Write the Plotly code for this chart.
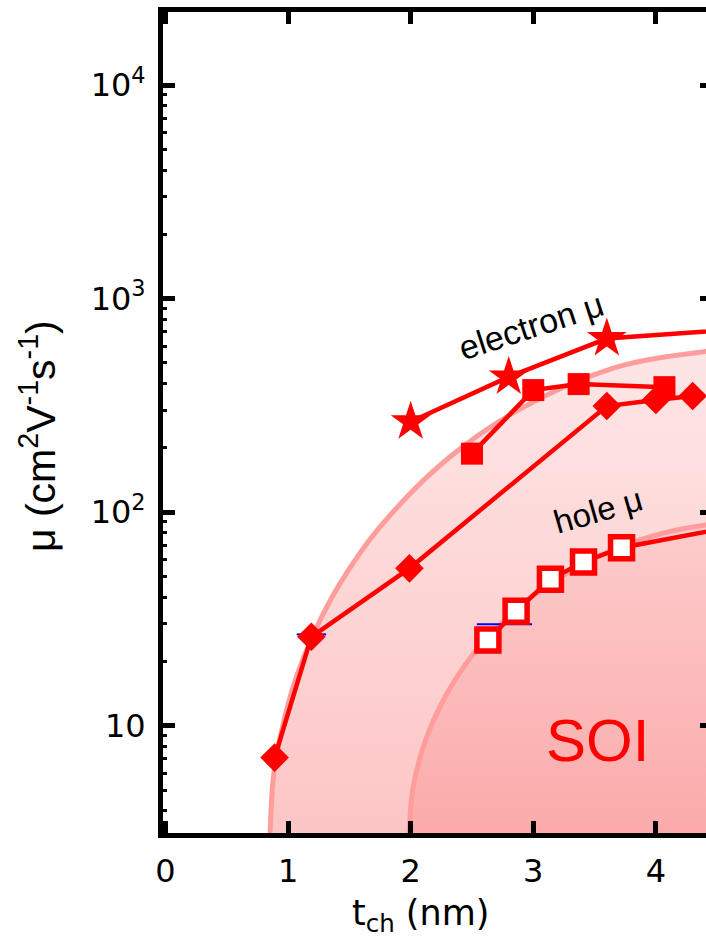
import plotly.graph_objects as go

# ---------------- data ----------------
star_x = [2.0, 2.8, 3.6, 5.0]
star_y = [265, 430, 650, 740]

sq_x = [2.5, 3.0, 3.37, 4.07]
sq_y = [188, 373, 398, 385]

dia_x = [0.89, 1.19, 1.99, 3.6, 4.0, 4.3]
dia_y = [7.1, 26.1, 54.6, 314, 335, 350]

hole_x = [2.63, 2.86, 3.14, 3.41, 3.72, 5.0]
hole_y = [25.2, 34.4, 48.5, 58.5, 68.2, 94]

blue_x = [1.07, 1.31, None, 2.54, 2.99]
blue_y = [26.8, 26.8, None, 29.9, 29.9]

# shaded region boundaries
outer_x = [0.852, 0.874, 0.901, 0.975, 1.07, 1.219, 1.423, 1.75, 2.296,
           2.892, 3.707, 4.409, 4.6]
outer_y = [3.0, 5.31, 6.95, 11.1, 17.1, 27.8, 46.3, 85.3, 177,
           304, 483, 565, 575]
inner_x = [1.986, 2.021, 2.131, 2.294, 2.467, 2.647, 2.892, 3.095, 3.381,
           3.707, 4.033, 4.409, 4.6]
inner_y = [3.0, 5.19, 8.87, 14.1, 20.1, 26.6, 36.4, 44.7, 56.2,
           68.7, 79.1, 87.1, 89]
region_floor = 3.0

# ticks
x_ticks = [0, 1, 2, 3, 4]
y_ticks = [10, 100, 1000, 10000]
y_ticktext = ['10', '10<sup>2</sup>', '10<sup>3</sup>', '10<sup>4</sup>']
y_minor = [m * 10 ** d for d in range(0, 5) for m in range(2, 10)]

RED = '#ff0000'
EDGE = '#ff9c9c'
TICKFONT = dict(family='DejaVu Sans', size=32, color='black')

fig = go.Figure()

# outer region
fig.add_trace(go.Scatter(
    x=outer_x + [outer_x[-1], outer_x[0]],
    y=outer_y + [region_floor, region_floor],
    fill='toself', mode='lines', line=dict(width=0),
    fillgradient=dict(type='vertical',
                      colorscale=[[0, '#fdc5c5'], [1, '#fee6e6']]),
    hoverinfo='skip', showlegend=False))
fig.add_trace(go.Scatter(x=outer_x, y=outer_y, mode='lines',
                         line=dict(color=EDGE, width=5, shape='spline'),
                         hoverinfo='skip', showlegend=False))
# inner region
fig.add_trace(go.Scatter(
    x=inner_x + [inner_x[-1], inner_x[0]],
    y=inner_y + [region_floor, region_floor],
    fill='toself', mode='lines', line=dict(width=0),
    fillgradient=dict(type='vertical',
                      colorscale=[[0, '#fbaaaa'], [1, '#fdcccc']]),
    hoverinfo='skip', showlegend=False))
fig.add_trace(go.Scatter(x=inner_x, y=inner_y, mode='lines',
                         line=dict(color=EDGE, width=5, shape='spline'),
                         hoverinfo='skip', showlegend=False))

# blue remnants
fig.add_trace(go.Scatter(x=blue_x, y=blue_y, mode='lines',
                         line=dict(color='#0000ff', width=2),
                         hoverinfo='skip', showlegend=False))

# data series
fig.add_trace(go.Scatter(x=dia_x, y=dia_y, mode='lines+markers',
                         line=dict(color=RED, width=4.5),
                         marker=dict(symbol='diamond', size=22, color=RED),
                         showlegend=False))
fig.add_trace(go.Scatter(x=sq_x, y=sq_y, mode='lines+markers',
                         line=dict(color=RED, width=4.5),
                         marker=dict(symbol='square', size=22, color=RED),
                         showlegend=False))
fig.add_trace(go.Scatter(x=star_x, y=star_y, mode='lines+markers',
                         line=dict(color=RED, width=4.5),
                         marker=dict(symbol='star', size=30, color=RED),
                         showlegend=False))
fig.add_trace(go.Scatter(x=hole_x, y=hole_y, mode='lines+markers',
                         line=dict(color=RED, width=4.5),
                         marker=dict(symbol='square', size=22, color='white',
                                     line=dict(color=RED, width=5.5)),
                         showlegend=False))
# right-hand axis stub carrier
fig.add_trace(go.Scatter(x=[], y=[], yaxis='y2', showlegend=False))

fig.update_layout(
    width=706, height=939, autosize=False,
    margin=dict(l=163, r=0, t=12, b=106, pad=0),
    paper_bgcolor='white', plot_bgcolor='white',
    xaxis=dict(range=[-0.0204, 4.409], tickmode='array', tickvals=x_ticks,
               ticks='inside', ticklen=12, tickwidth=4.5, tickcolor='black',
               showline=True, linewidth=5, linecolor='black', mirror='ticks',
               showgrid=False, zeroline=False, tickfont=TICKFONT,
               ticklabelstandoff=6),
    yaxis=dict(type='log', range=[0.4982, 4.3418], tickmode='array',
               tickvals=y_ticks, ticktext=y_ticktext,
               ticks='inside', ticklen=12, tickwidth=5, tickcolor='black',
               showline=True, linewidth=5, linecolor='black',
               showgrid=False, zeroline=False, tickfont=TICKFONT,
               ticklabelstandoff=6,
               minor=dict(ticks='inside', ticklen=4, tickwidth=2.5,
                          tickcolor='black', tickmode='array',
                          tickvals=y_minor, showgrid=False)),
    yaxis2=dict(type='log', range=[0.4982, 4.3418], overlaying='y',
                side='right', anchor='x', tickmode='array', tickvals=y_ticks,
                ticks='inside', ticklen=6, tickwidth=5, tickcolor='black',
                showticklabels=False, showline=False, showgrid=False,
                zeroline=False),
    annotations=[
        dict(text='electron μ', x=2.981, y=2.872, xref='x', yref='y',
             showarrow=False, textangle=-18,
             font=dict(family='Liberation Sans', size=34, color='black')),
        dict(text='hole μ', x=3.528, y=2.006, xref='x', yref='y',
             showarrow=False, textangle=-16,
             font=dict(family='Liberation Sans', size=33, color='black')),
        dict(text='SOI', x=3.524, y=0.931, xref='x', yref='y',
             showarrow=False,
             font=dict(family='Liberation Sans', size=60, color=RED)),
        dict(text='μ (cm<sup>2</sup>V<sup>-1</sup>s<sup>-1</sup>)',
             x=-0.230, y=0.4836, xref='paper', yref='paper',
             xanchor='center', yanchor='middle', showarrow=False,
             textangle=-90,
             font=dict(family='Liberation Sans', size=41, color='black')),
        dict(text='t<sub>ch</sub> (nm)', x=0.475, y=-0.1010,
             xref='paper', yref='paper', xanchor='center', yanchor='middle',
             showarrow=False,
             font=dict(family='DejaVu Sans', size=35, color='black')),
    ],
)

fig.write_html('out.html', config={'displayModeBar': False},
               post_script="document.body.style.margin='0';"
                           "document.body.style.overflow='hidden';")
